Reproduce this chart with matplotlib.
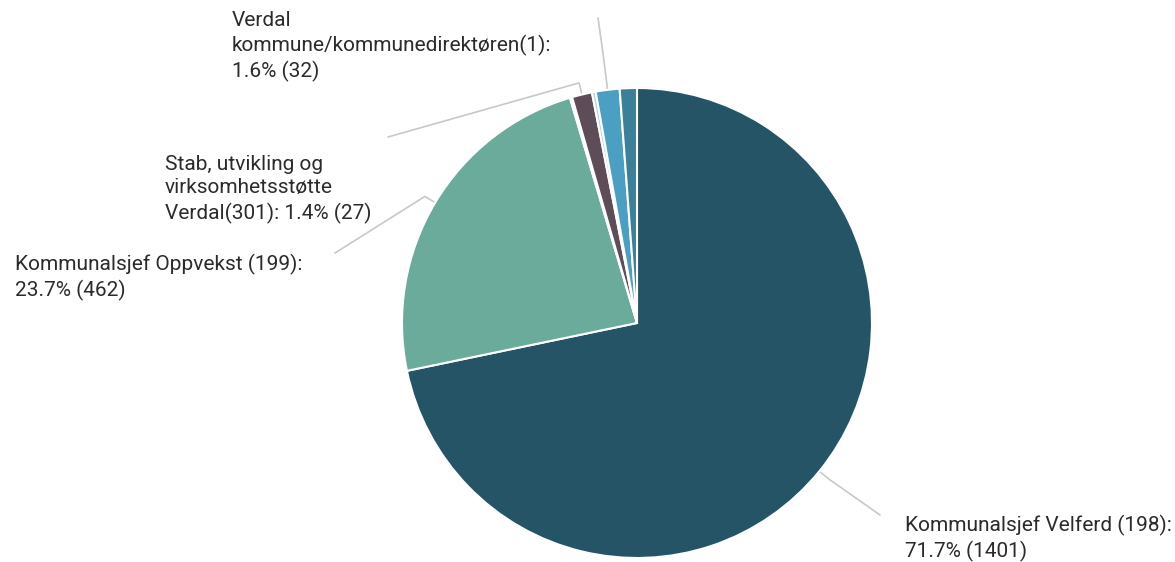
import matplotlib.pyplot as plt
import numpy as np

plt.rcParams['font.family'] = ['Roboto', 'DejaVu Sans']

# data (order = clockwise from 12 o'clock)
names = ["Kommunalsjef Velferd (198)",
         "Kommunalsjef Oppvekst (199)",
         "Andre",
         "Stab, utvikling og\nvirksomhetsstøtte\nVerdal(301)",
         "Andre 2",
         "Verdal\nkommune/kommunedirektøren(1)",
         "Andre 3"]
values = [1401, 462, 3, 27, 5, 32, 23]
colors = ['#245466', '#6aab9c', '#d8e6e4', '#5e4c58', '#b9d3dc', '#4b9fc3', '#3b7f98']
show_label = [True, True, False, True, False, True, False]

W, H = 1175, 562
cx, cy, R = 637, 323, 235

def py(y):
    return H - y

fig = plt.figure(figsize=(W / 100, H / 100), dpi=100)
ax = fig.add_axes([0, 0, 1, 1])

wedges, _ = ax.pie(values, colors=colors, startangle=90, counterclock=False,
                   center=(cx, py(cy)), radius=R,
                   wedgeprops=dict(edgecolor='white', linewidth=1.5))
ax.set_xlim(0, W)
ax.set_ylim(0, H)
ax.set_aspect('equal')
ax.axis('off')

total = sum(values)

# label placement (top-left of text, pixel coords) and connector anchor
label_pos = {0: (905, 515), 1: (15, 254), 3: (165, 155), 5: (232, 11)}
anchor = {0: (880, 515), 1: (335, 253), 3: (388, 137), 5: (598, 18)}
crook = {0: 12, 1: 12, 3: 12, 5: 40}

for i, w in enumerate(wedges):
    if not show_label[i]:
        continue
    mid = np.deg2rad((w.theta1 + w.theta2) / 2)
    ex, ey = cx + R * np.cos(mid), py(cy) + R * np.sin(mid)
    bx, by = ex + crook[i] * np.cos(mid), ey + crook[i] * np.sin(mid)
    axp, ayp = anchor[i]
    ax.plot([axp, bx, ex], [py(ayp), by, ey], color='#c8c8c8', lw=1.2,
            solid_capstyle='round', zorder=0)
    pct = values[i] / total * 100
    txt = f"{names[i]}:\n{pct:.1f}% ({values[i]})"
    if i == 3:
        txt = f"{names[i]}: {pct:.1f}% ({values[i]})"
    lx, ly = label_pos[i]
    ax.text(lx, py(ly), txt, ha='left', va='top', fontsize=15,
            color='#2b2b2b', linespacing=1.3)

plt.savefig('out.png', dpi=100)
